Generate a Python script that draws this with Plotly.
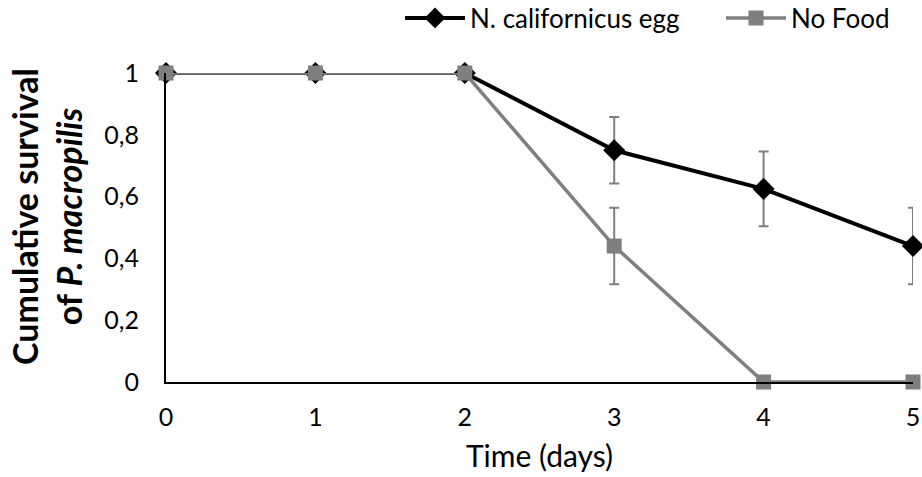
import plotly.graph_objects as go

days = [0, 1, 2, 3, 4, 5]
egg_survival = [1, 1, 1, 0.75, 0.625, 0.44]
egg_err = [0, 0, 0, 0.108, 0.121, 0.124]
nofood_survival = [1, 1, 1, 0.44, 0, 0]
nofood_err = [0, 0, 0, 0.124, 0, 0]

FONT = "Lato"
GRAY = "#7f7f7f"

fig = go.Figure()
fig.add_trace(go.Scatter(
    x=days, y=egg_survival, name="N. californicus egg", mode="lines+markers",
    line=dict(color="black", width=4),
    marker=dict(symbol="diamond", size=17, color="black"),
    error_y=dict(type="data", array=egg_err, visible=True, color=GRAY, thickness=2, width=5),
    cliponaxis=False, legend="legend",
))
fig.add_trace(go.Scatter(
    x=days, y=nofood_survival, name="No Food", mode="lines+markers",
    line=dict(color=GRAY, width=3.5),
    marker=dict(symbol="square", size=15, color=GRAY),
    error_y=dict(type="data", array=nofood_err, visible=True, color=GRAY, thickness=2, width=5),
    cliponaxis=False, legend="legend2",
))

leg_common = dict(orientation="h", yref="container", yanchor="middle", y=1 - 18 / 477,
                  xref="container", xanchor="left", itemwidth=60,
                  font=dict(size=26, color="black", family=FONT),
                  bgcolor="rgba(0,0,0,0)")

fig.add_annotation(
    text="<b>Cumulative survival<br>of <i>P. macropilis</i></b>",
    textangle=-90, xref="paper", yref="paper",
    x=(46 - 166) / 747, y=(382 - 217) / 309, xanchor="center", yanchor="middle",
    showarrow=False, font=dict(size=34, family=FONT, color="black"),
)

fig.update_layout(
    width=922, height=477,
    margin=dict(l=166, r=9, t=73, b=95, autoexpand=False),
    paper_bgcolor="white", plot_bgcolor="white",
    separators=",.",
    font=dict(family=FONT, size=25, color="black"),
    showlegend=True,
    legend=dict(x=400 / 922, **leg_common),
    legend2=dict(x=721 / 922, **leg_common),
    xaxis=dict(range=[0, 5], tickvals=days, showgrid=False, zeroline=False,
               showline=True, linecolor="black", linewidth=2, ticks="",
               ticklabelstandoff=12,
               tickfont=dict(size=25),
               title=dict(text="Time (days)", font=dict(size=30), standoff=16)),
    yaxis=dict(range=[0, 1], dtick=0.2, showgrid=False, zeroline=False,
               showline=True, linecolor="black", linewidth=2, ticks="",
               ticklabelstandoff=20,
               tickfont=dict(size=25)),
)

fig.write_html("out.html")
